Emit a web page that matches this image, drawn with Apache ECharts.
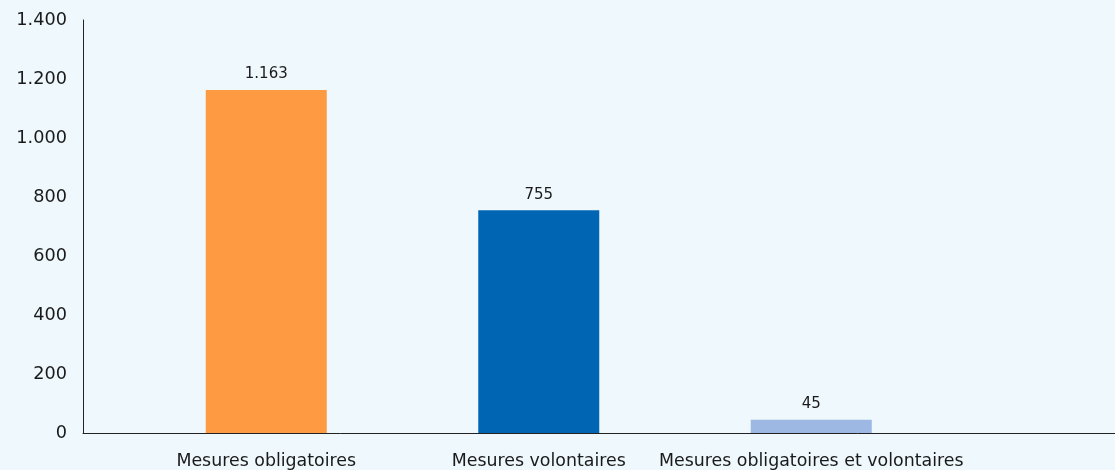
<!DOCTYPE html>
<html><head><meta charset="utf-8">
<script src="https://cdn.jsdelivr.net/npm/echarts@6/dist/echarts.min.js"></script>
<style>html,body{margin:0;padding:0;background:#eef8fd;}#c{width:1115px;height:470px;}</style>
</head><body><div id="c"></div>
<script>
const categories = ["Mesures obligatoires", "Mesures volontaires", "Mesures obligatoires et volontaires"];
const values = [1163, 755, 45];
const barColors = ["#fd9a42", "#0066b3", "#9db9e3"];
const yTicks = { min: 0, max: 1400, interval: 200 };

function fmt(v) { return String(v).replace(/\B(?=(\d{3})+(?!\d))/g, "."); }

const chart = echarts.init(document.getElementById('c'));
chart.setOption({
  backgroundColor: '#eef8fd',
  animation: false,
  textStyle: { fontFamily: 'DejaVu Sans' },
  grid: [
    { left: 83, right: 0, top: 20, bottom: 37 },
    { left: 130, width: 817.5, top: 20, bottom: 37 }
  ],
  xAxis: [
    { gridIndex: 0, type: 'value', min: 0, max: 1, axisLine: { show: true, lineStyle: { color: '#222', width: 1 } },
      axisTick: { show: false }, axisLabel: { show: false }, splitLine: { show: false } },
    { gridIndex: 1, type: 'category', data: categories, axisLine: { show: false }, axisTick: { show: false },
      axisLabel: { color: '#1a1a1a', fontSize: 17.4, margin: 20, interval: 0, fontFamily: 'DejaVu Sans' } }
  ],
  yAxis: [
    { gridIndex: 0, type: 'value', min: yTicks.min, max: yTicks.max, interval: yTicks.interval,
      axisLine: { show: true, lineStyle: { color: '#222', width: 1 } }, axisTick: { show: false },
      splitLine: { show: false },
      axisLabel: { color: '#1a1a1a', fontSize: 17.7, margin: 16, padding: [10, 0, 0, 0], formatter: fmt, fontFamily: 'DejaVu Sans' } },
    { gridIndex: 1, type: 'value', min: yTicks.min, max: yTicks.max, interval: yTicks.interval, show: false }
  ],
  series: [{
    type: 'bar', xAxisIndex: 1, yAxisIndex: 1, barWidth: 121,
    data: values.map((v, i) => ({ value: v, itemStyle: { color: barColors[i] } })),
    label: { show: true, position: 'top', distance: 8, color: '#1a1a1a', fontSize: 15,
      fontFamily: 'DejaVu Sans', formatter: p => fmt(p.value) }
  }]
});
</script></body></html>
